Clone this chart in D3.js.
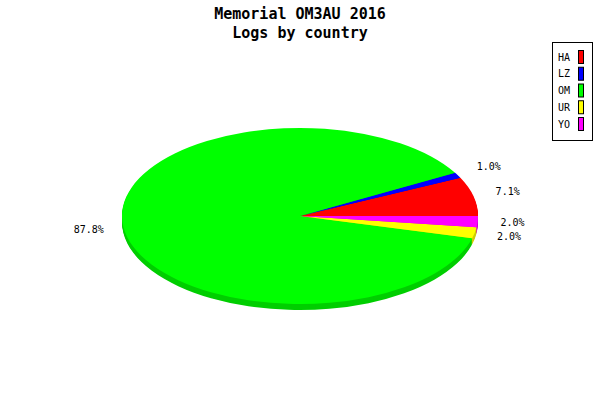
<!DOCTYPE html>
<html>
<head>
<meta charset="utf-8">
<script src="https://cdn.jsdelivr.net/npm/d3@7"></script>
<style>
  body { margin: 0; background: #fff; }
  svg { display: block; }
  text { font-family: 'DejaVu Sans Mono', monospace; fill: #000; }
</style>
</head>
<body>
<div id="chart"></div>
<script>
// logs per country (percentages are count / total)
const countries = ['HA', 'LZ', 'OM', 'UR', 'YO'];
const logs = [7, 1, 86, 2, 2];
const colors = ['#ff0000', '#0000ff', '#00ff00', '#ffff00', '#ff00ff'];
const titleLines = ['Memorial OM3AU 2016', 'Logs by country'];

const width = 600;
const height = 400;

const cx = 300;
const cy = 216;
const rx = 178;
const ry = 88;
const depth = 6;

const svg = d3.select('#chart')
  .append('svg')
  .attr('width', width)
  .attr('height', height);

// title
svg.selectAll('text.title')
  .data(titleLines)
  .join('text')
  .attr('class', 'title')
  .attr('x', width / 2)
  .attr('y', (d, i) => 14 + i * 19)
  .attr('text-anchor', 'middle')
  .attr('dominant-baseline', 'central')
  .style('font-size', '15px')
  .style('font-weight', 'bold')
  .text(d => d);

const rows = countries.map((c, i) => ({ country: c, value: logs[i], color: colors[i] }));
const total = d3.sum(logs);

// start at 3 o'clock and go counterclockwise
const pie = d3.pie()
  .value(d => d.value)
  .sort(null)
  .startAngle(Math.PI / 2)
  .endAngle(Math.PI / 2 - 2 * Math.PI);

const arcs = pie(rows);
const arc = d3.arc().innerRadius(0).outerRadius(rx);
const darker = c => d3.rgb(c).darker(0.6);

// side of the pie: stacked darker layers
const layers = d3.range(depth, 0, -1);
svg.selectAll('g.layer')
  .data(layers)
  .join('g')
  .attr('class', 'layer')
  .attr('transform', d => `translate(${cx}, ${cy + d}) scale(1, ${ry / rx})`)
  .selectAll('path')
  .data(arcs)
  .join('path')
  .attr('d', arc)
  .attr('fill', d => darker(d.data.color));

// top face
svg.append('g')
  .attr('transform', `translate(${cx}, ${cy}) scale(1, ${ry / rx})`)
  .selectAll('path')
  .data(arcs)
  .join('path')
  .attr('d', arc)
  .attr('fill', d => d.data.color);

// percentage labels
const lx = 213;
const ly = 108;
const fmt = d => (d * 100).toFixed(1) + '%';
svg.selectAll('text.pct')
  .data(arcs)
  .join('text')
  .attr('class', 'pct')
  .attr('x', d => cx + lx * Math.sin((d.startAngle + d.endAngle) / 2))
  .attr('y', d => cy - ly * Math.cos((d.startAngle + d.endAngle) / 2))
  .attr('text-anchor', 'middle')
  .attr('dominant-baseline', 'central')
  .style('font-size', '10px')
  .text(d => fmt(d.data.value / total));

// legend
const legend = svg.append('g');
legend.append('rect')
  .attr('x', 552.5)
  .attr('y', 42.5)
  .attr('width', 40)
  .attr('height', 98)
  .attr('fill', '#fff')
  .attr('stroke', '#000');

const rowY = d3.scalePoint().domain(countries).range([57, 124]);

const items = legend.selectAll('g.item')
  .data(rows)
  .join('g')
  .attr('class', 'item');

items.append('text')
  .attr('x', 558)
  .attr('y', d => rowY(d.country))
  .attr('dominant-baseline', 'central')
  .style('font-size', '10px')
  .text(d => d.country);

items.append('rect')
  .attr('x', 578.5)
  .attr('y', d => rowY(d.country) - 6.5)
  .attr('width', 5)
  .attr('height', 13)
  .attr('fill', d => d.color)
  .attr('stroke', '#000');
</script>
</body>
</html>
